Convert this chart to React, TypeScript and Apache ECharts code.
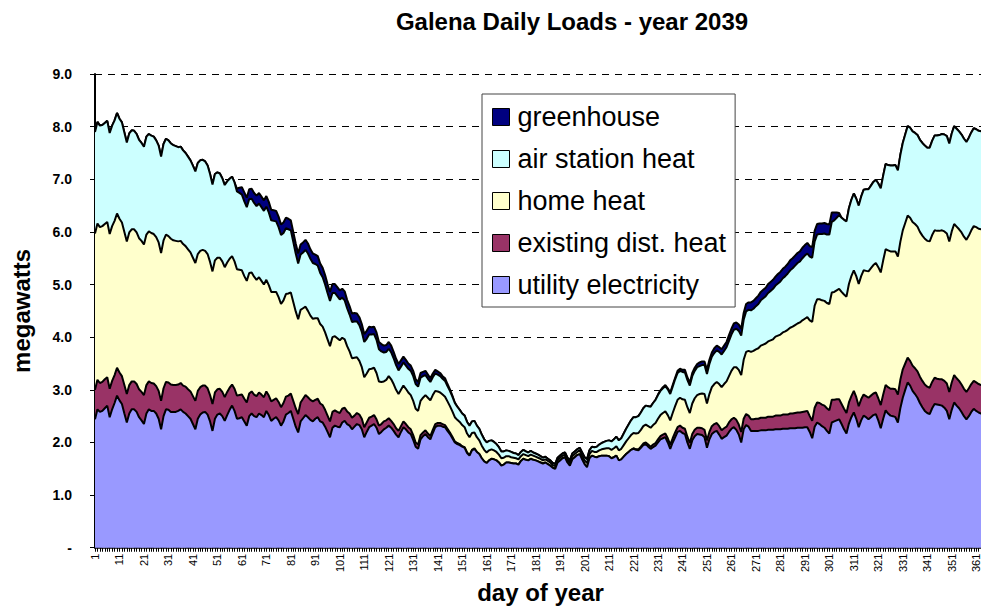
import React, { useEffect, useRef } from "react";
import * as echarts from "echarts";

const FONT = "'Liberation Sans', Arial, Helvetica, sans-serif";

const days: string[] = Array.from({ length: 365 }, (_, i) => String(i + 1));

const seriesNames = [
  "utility electricity",
  "existing dist. heat",
  "home heat",
  "air station heat",
  "greenhouse",
];
const seriesColors = ["#9999FF", "#993366", "#FFFFCC", "#CCFFFF", "#000080"];
const legendOrder = [
  "greenhouse",
  "air station heat",
  "home heat",
  "existing dist. heat",
  "utility electricity",
];

// utility electricity (MW), day 1..365
const elec = [
  2.44,2.63,2.58,2.60,2.65,2.70,2.48,2.63,2.75,2.89,
  2.80,2.73,2.55,2.38,2.55,2.63,2.63,2.58,2.48,2.42,
  2.35,2.55,2.63,2.60,2.60,2.55,2.45,2.25,2.50,2.63,
  2.62,2.58,2.58,2.58,2.60,2.63,2.58,2.55,2.50,2.45,
  2.35,2.25,2.45,2.53,2.57,2.58,2.53,2.40,2.22,2.45,
  2.53,2.55,2.50,2.41,2.52,2.62,2.70,2.60,2.45,2.46,
  2.48,2.40,2.32,2.50,2.55,2.50,2.48,2.55,2.52,2.48,
  2.60,2.52,2.41,2.45,2.48,2.42,2.32,2.40,2.53,2.56,
  2.60,2.45,2.30,2.19,2.40,2.46,2.52,2.48,2.43,2.40,
  2.45,2.48,2.40,2.38,2.30,2.20,2.10,2.28,2.32,2.30,
  2.29,2.38,2.41,2.35,2.32,2.25,2.30,2.35,2.33,2.25,
  2.10,2.20,2.29,2.32,2.35,2.28,2.16,2.20,2.25,2.28,
  2.32,2.28,2.22,2.15,2.10,2.20,2.29,2.25,2.19,2.16,
  2.05,1.92,1.88,2.06,2.12,2.16,2.10,2.06,2.18,2.29,
  2.32,2.32,2.30,2.29,2.22,2.16,2.08,2.00,1.97,1.95,
  1.92,1.90,1.80,1.75,1.85,1.88,1.82,1.78,1.70,1.64,
  1.61,1.66,1.69,1.68,1.66,1.62,1.56,1.58,1.62,1.62,
  1.61,1.60,1.60,1.58,1.65,1.69,1.67,1.66,1.69,1.67,
  1.66,1.64,1.62,1.60,1.62,1.59,1.56,1.52,1.50,1.62,
  1.66,1.70,1.72,1.62,1.56,1.68,1.72,1.76,1.78,1.68,
  1.59,1.53,1.70,1.75,1.73,1.72,1.74,1.75,1.75,1.75,
  1.74,1.70,1.72,1.75,1.66,1.68,1.73,1.78,1.82,1.86,
  1.88,1.86,1.85,1.90,1.95,1.97,1.92,1.88,1.91,1.94,
  2.00,2.06,2.08,2.10,2.00,1.88,2.00,2.10,2.20,2.22,
  2.18,2.16,2.00,1.88,2.04,2.12,2.16,2.15,2.14,2.10,
  1.90,2.06,2.16,2.20,2.22,2.15,2.07,2.10,2.13,2.20,
  2.26,2.29,2.24,2.15,2.00,2.25,2.33,2.30,2.22,2.22,
  2.22,2.22,2.23,2.23,2.23,2.24,2.24,2.24,2.25,2.25,
  2.25,2.26,2.26,2.26,2.27,2.27,2.27,2.28,2.28,2.28,
  2.29,2.29,2.20,2.08,2.30,2.38,2.35,2.31,2.28,2.22,
  2.17,2.38,2.40,2.42,2.44,2.35,2.25,2.17,2.36,2.48,
  2.57,2.45,2.29,2.42,2.51,2.48,2.44,2.48,2.52,2.54,
  2.42,2.27,2.45,2.61,2.55,2.51,2.50,2.48,2.38,2.65,
  2.85,3.00,3.14,3.08,2.98,2.92,2.85,2.75,2.67,2.60,
  2.56,2.54,2.65,2.73,2.72,2.71,2.70,2.66,2.60,2.44,
  2.62,2.76,2.70,2.65,2.58,2.50,2.44,2.50,2.58,2.64,
  2.60,2.57,2.55,2.58,2.60,
];

// existing district heat (MW)
const distHeat = [
  0.56,0.56,0.55,0.55,0.55,0.54,0.54,0.54,0.53,0.53,
  0.53,0.53,0.54,0.54,0.54,0.53,0.53,0.53,0.53,0.54,
  0.55,0.54,0.53,0.53,0.52,0.52,0.53,0.54,0.53,0.52,
  0.52,0.52,0.51,0.51,0.50,0.50,0.50,0.51,0.51,0.52,
  0.53,0.54,0.53,0.52,0.51,0.50,0.50,0.50,0.51,0.50,
  0.48,0.47,0.46,0.45,0.44,0.42,0.40,0.42,0.44,0.44,
  0.43,0.43,0.44,0.43,0.42,0.41,0.40,0.40,0.39,0.38,
  0.37,0.37,0.37,0.36,0.36,0.35,0.35,0.35,0.34,0.33,
  0.33,0.34,0.35,0.35,0.36,0.37,0.38,0.38,0.38,0.38,
  0.36,0.35,0.34,0.33,0.32,0.31,0.30,0.30,0.29,0.28,
  0.27,0.26,0.25,0.24,0.23,0.22,0.21,0.21,0.20,0.20,
  0.19,0.18,0.18,0.17,0.17,0.16,0.16,0.15,0.15,0.14,
  0.14,0.13,0.13,0.12,0.12,0.11,0.11,0.10,0.10,0.09,
  0.09,0.08,0.08,0.08,0.07,0.07,0.07,0.06,0.06,0.06,
  0.05,0.05,0.05,0.04,0.04,0.03,0.03,0.02,0.02,0.02,
  0.01,0.01,0.01,0.01,0.01,0.01,0,0,0,0,
  0,0,0,0,0,0,0,0,0,0,
  0,0,0,0,0,0,0,0,0,0,
  0,0,0,0,0,0,0,0,0,0,
  0,0,0,0,0,0,0,0,0,0,
  0,0,0,0,0,0,0,0,0,0,
  0,0,0,0,0,0,0,0,0,0,
  0.01,0.01,0.02,0.02,0.03,0.03,0.04,0.04,0.05,0.05,
  0.06,0.06,0.07,0.07,0.08,0.08,0.08,0.09,0.09,0.10,
  0.10,0.10,0.11,0.11,0.12,0.12,0.12,0.13,0.13,0.14,
  0.14,0.14,0.15,0.15,0.15,0.16,0.16,0.17,0.17,0.18,
  0.18,0.18,0.19,0.19,0.20,0.20,0.21,0.21,0.22,0.22,
  0.23,0.23,0.24,0.24,0.24,0.25,0.25,0.25,0.26,0.26,
  0.26,0.27,0.27,0.27,0.28,0.28,0.29,0.29,0.29,0.30,
  0.30,0.31,0.30,0.33,0.36,0.38,0.40,0.41,0.42,0.43,
  0.44,0.43,0.41,0.40,0.38,0.38,0.39,0.39,0.40,0.40,
  0.41,0.41,0.40,0.40,0.40,0.40,0.41,0.41,0.41,0.41,
  0.42,0.44,0.46,0.48,0.50,0.51,0.52,0.53,0.53,0.54,
  0.54,0.50,0.47,0.47,0.48,0.49,0.50,0.50,0.50,0.50,
  0.50,0.50,0.50,0.50,0.49,0.49,0.50,0.51,0.52,0.52,
  0.52,0.52,0.52,0.52,0.52,0.52,0.52,0.53,0.53,0.53,
  0.54,0.54,0.54,0.54,0.54,
];

// home heat (MW)
const homeHeat = [
  2.97,2.97,2.96,2.96,2.95,2.95,2.94,2.94,2.93,2.93,
  2.92,2.92,2.91,2.90,2.90,2.89,2.89,2.88,2.87,2.87,
  2.86,2.86,2.85,2.85,2.84,2.83,2.82,2.81,2.81,2.80,
  2.78,2.77,2.75,2.74,2.72,2.70,2.69,2.67,2.66,2.64,
  2.63,2.62,2.60,2.59,2.58,2.56,2.55,2.53,2.52,2.51,
  2.50,2.49,2.48,2.47,2.46,2.45,2.44,2.42,2.40,2.38,
  2.36,2.33,2.31,2.29,2.26,2.24,2.21,2.19,2.16,2.14,
  2.12,2.10,2.08,2.05,2.02,1.99,1.96,1.95,1.95,1.94,
  1.92,1.88,1.84,1.80,1.76,1.72,1.68,1.64,1.60,1.57,
  1.55,1.53,1.51,1.49,1.47,1.45,1.43,1.42,1.41,1.40,
  1.38,1.35,1.30,1.24,1.18,1.13,1.10,1.06,1.02,0.98,
  0.95,0.93,0.92,0.91,0.90,0.88,0.84,0.80,0.76,0.77,
  0.80,0.79,0.76,0.73,0.70,0.69,0.68,0.67,0.66,0.65,
  0.65,0.64,0.64,0.65,0.66,0.67,0.68,0.68,0.66,0.63,
  0.60,0.58,0.56,0.54,0.52,0.50,0.48,0.46,0.44,0.42,
  0.40,0.38,0.36,0.34,0.32,0.30,0.28,0.26,0.24,0.22,
  0.20,0.19,0.18,0.17,0.16,0.15,0.14,0.13,0.12,0.12,
  0.11,0.11,0.10,0.10,0.09,0.09,0.09,0.08,0.08,0.08,
  0.07,0.07,0.07,0.06,0.06,0.06,0.06,0.05,0.05,0.05,
  0.05,0.05,0.05,0.05,0.06,0.06,0.06,0.06,0.07,0.07,
  0.07,0.08,0.08,0.09,0.09,0.10,0.11,0.12,0.13,0.14,
  0.15,0.16,0.17,0.18,0.19,0.20,0.22,0.24,0.26,0.28,
  0.29,0.30,0.31,0.32,0.33,0.34,0.35,0.36,0.37,0.38,
  0.39,0.40,0.41,0.42,0.44,0.46,0.48,0.50,0.52,0.53,
  0.54,0.55,0.56,0.57,0.58,0.60,0.62,0.64,0.66,0.68,
  0.70,0.72,0.74,0.76,0.78,0.80,0.82,0.84,0.86,0.88,
  0.92,0.96,1.00,1.04,1.08,1.12,1.18,1.23,1.28,1.30,
  1.32,1.34,1.37,1.39,1.41,1.43,1.45,1.47,1.50,1.52,
  1.54,1.56,1.58,1.61,1.63,1.65,1.67,1.69,1.71,1.74,
  1.76,1.78,1.82,1.88,1.94,1.96,1.97,1.98,1.99,2.00,
  2.02,2.04,2.05,2.07,2.10,2.13,2.17,2.21,2.25,2.28,
  2.29,2.30,2.32,2.34,2.36,2.38,2.40,2.42,2.44,2.46,
  2.49,2.52,2.55,2.58,2.60,2.61,2.61,2.62,2.62,2.62,
  2.64,2.67,2.70,2.72,2.73,2.74,2.75,2.75,2.76,2.77,
  2.77,2.78,2.79,2.80,2.81,2.82,2.83,2.84,2.85,2.86,
  2.87,2.87,2.88,2.88,2.89,2.89,2.89,2.90,2.92,2.94,
  2.95,2.95,2.96,2.96,2.97,
];

// air station heat (MW)
const airHeat = [
  1.93,1.93,1.93,1.92,1.92,1.92,1.92,1.91,1.91,1.91,
  1.90,1.90,1.89,1.88,1.88,1.88,1.87,1.87,1.87,1.86,
  1.86,1.86,1.85,1.85,1.85,1.84,1.84,1.83,1.83,1.82,
  1.82,1.81,1.81,1.80,1.79,1.79,1.78,1.77,1.76,1.75,
  1.75,1.74,1.73,1.72,1.71,1.70,1.68,1.67,1.65,1.64,
  1.62,1.60,1.58,1.56,1.54,1.52,1.51,1.50,1.48,1.46,
  1.44,1.42,1.40,1.40,1.40,1.40,1.40,1.40,1.40,1.40,
  1.39,1.38,1.36,1.35,1.34,1.33,1.31,1.28,1.25,1.22,
  1.18,1.14,1.10,1.06,1.05,1.06,1.08,1.09,1.08,1.06,
  1.03,1.00,0.97,0.94,0.91,0.88,0.86,0.84,0.82,0.80,
  0.78,0.76,0.74,0.72,0.70,0.69,0.69,0.68,0.68,0.67,
  0.67,0.66,0.66,0.65,0.64,0.63,0.61,0.58,0.55,0.53,
  0.52,0.51,0.49,0.47,0.45,0.44,0.44,0.44,0.45,0.46,
  0.47,0.47,0.46,0.44,0.41,0.38,0.36,0.35,0.34,0.33,
  0.32,0.31,0.30,0.30,0.29,0.29,0.28,0.27,0.25,0.23,
  0.22,0.22,0.22,0.22,0.22,0.22,0.22,0.22,0.21,0.20,
  0.19,0.18,0.17,0.16,0.15,0.14,0.13,0.12,0.11,0.10,
  0.10,0.09,0.09,0.08,0.08,0.08,0.07,0.07,0.07,0.06,
  0.06,0.06,0.05,0.05,0.05,0.04,0.04,0.04,0.04,0.04,
  0.04,0.04,0.04,0.04,0.04,0.05,0.05,0.05,0.05,0.06,
  0.06,0.07,0.07,0.08,0.09,0.10,0.11,0.12,0.13,0.14,
  0.15,0.16,0.17,0.18,0.19,0.20,0.22,0.24,0.26,0.28,
  0.30,0.31,0.32,0.33,0.34,0.36,0.38,0.40,0.42,0.44,
  0.45,0.46,0.47,0.48,0.49,0.50,0.50,0.51,0.51,0.51,
  0.52,0.52,0.52,0.52,0.52,0.52,0.53,0.53,0.54,0.55,
  0.56,0.57,0.58,0.59,0.60,0.61,0.62,0.63,0.65,0.67,
  0.69,0.71,0.73,0.74,0.75,0.76,0.77,0.78,0.79,0.80,
  0.82,0.84,0.86,0.88,0.90,0.92,0.94,0.96,0.97,0.99,
  1.01,1.03,1.05,1.07,1.09,1.11,1.13,1.15,1.16,1.18,
  1.20,1.21,1.21,1.22,1.22,1.23,1.24,1.26,1.28,1.30,
  1.32,1.34,1.36,1.38,1.40,1.41,1.42,1.43,1.44,1.45,
  1.46,1.47,1.49,1.51,1.53,1.55,1.56,1.57,1.58,1.58,
  1.59,1.60,1.61,1.62,1.62,1.63,1.63,1.64,1.64,1.65,
  1.66,1.68,1.70,1.71,1.72,1.73,1.74,1.75,1.76,1.77,
  1.77,1.78,1.79,1.80,1.81,1.82,1.83,1.84,1.85,1.86,
  1.86,1.86,1.86,1.86,1.86,1.86,1.86,1.86,1.86,1.86,
  1.86,1.86,1.86,1.86,1.86,
];

// greenhouse (MW)
const greenhouse = [
  0,0,0,0,0,0,0,0,0,0,
  0,0,0,0,0,0,0,0,0,0,
  0,0,0,0,0,0,0,0,0,0,
  0,0,0,0,0,0,0,0,0,0,
  0,0,0,0,0,0,0,0,0,0,
  0,0,0,0,0,0,0,0,0.05,0.10,
  0.14,0.17,0.18,0.19,0.19,0.19,0.20,0.20,0.20,0.20,
  0.20,0.20,0.20,0.20,0.20,0.20,0.20,0.20,0.20,0.20,
  0.19,0.19,0.19,0.19,0.19,0.19,0.19,0.19,0.18,0.18,
  0.18,0.18,0.18,0.18,0.18,0.17,0.17,0.17,0.17,0.17,
  0.17,0.17,0.17,0.16,0.16,0.16,0.16,0.15,0.15,0.15,
  0.15,0.15,0.15,0.14,0.14,0.14,0.14,0.14,0.13,0.13,
  0.13,0.13,0.12,0.12,0.12,0.12,0.11,0.11,0.10,0.10,
  0.10,0.09,0.09,0.09,0.08,0.08,0.08,0.07,0.07,0.07,
  0.06,0.06,0.05,0.05,0.04,0.03,0.02,0.01,0,0,
  0,0,0,0,0,0,0,0,0,0,
  0,0,0,0,0,0,0,0,0,0,
  0,0,0,0,0,0,0,0,0,0,
  0,0,0,0,0,0,0,0,0,0,
  0,0,0,0,0,0,0,0,0,0,
  0,0,0,0,0,0,0,0,0,0,
  0,0,0,0,0,0,0,0,0,0,
  0,0,0,0,0,0,0,0,0,0,
  0.01,0.01,0.02,0.02,0.02,0.03,0.03,0.03,0.04,0.04,
  0.04,0.05,0.05,0.05,0.06,0.06,0.06,0.07,0.07,0.07,
  0.08,0.08,0.08,0.09,0.09,0.09,0.10,0.10,0.10,0.11,
  0.11,0.12,0.12,0.12,0.13,0.13,0.14,0.14,0.15,0.15,
  0.15,0.16,0.16,0.16,0.16,0.17,0.17,0.17,0.17,0.18,
  0.18,0.18,0.18,0.18,0.19,0.19,0.19,0.19,0.19,0.20,
  0.20,0.20,0.20,0.20,0.20,0.20,0.20,0.20,0.20,0.20,
  0.19,0.18,0.15,0.10,0.04,0,0,0,0,0,
  0,0,0,0,0,0,0,0,0,0,
  0,0,0,0,0,0,0,0,0,0,
  0,0,0,0,0,0,0,0,0,0,
  0,0,0,0,0,0,0,0,0,0,
  0,0,0,0,0,0,0,0,0,0,
  0,0,0,0,0,
];

const seriesData = [elec, distHeat, homeHeat, airHeat, greenhouse];

export default function App() {
  const ref = useRef<HTMLDivElement>(null);

  useEffect(() => {
    if (!ref.current) return;
    const chart = echarts.init(ref.current, undefined, { renderer: "svg" });

    const series = seriesNames.map((name, i) => ({
      name,
      type: "line",
      stack: "total",
      data: seriesData[i],
      symbol: "none",
      showSymbol: false,
      z: 10 - i,
      itemStyle: { color: seriesColors[i] },
      lineStyle: { color: "#000", width: 2 },
      areaStyle: { color: seriesColors[i], opacity: 1 },
      emphasis: { disabled: true },
    }));

    chart.setOption({
      animation: false,
      backgroundColor: "#ffffff",
      title: {
        text: "Galena Daily Loads - year 2039",
        left: 567,
        top: 4,
        textAlign: "center",
        textStyle: {
          fontFamily: FONT,
          fontWeight: "bold",
          fontSize: 24,
          color: "#000",
        },
      },
      grid: { left: 95, right: 14, top: 74, bottom: 60 },
      legend: {
        orient: "vertical",
        left: 482,
        top: 94,
        padding: [8, 9, 7, 10],
        itemGap: 12,
        itemWidth: 17,
        itemHeight: 17,
        icon: "rect",
        backgroundColor: "#ffffff",
        borderColor: "#444",
        borderWidth: 1,
        borderRadius: 0,
        selectedMode: false,
        textStyle: {
          fontFamily: FONT,
          fontSize: 27,
          lineHeight: 30,
          color: "#000",
          padding: [0, 0, 0, 3],
        },
        data: legendOrder.map((n) => ({
          name: n,
          itemStyle: {
            color: seriesColors[seriesNames.indexOf(n)],
            borderColor: "#000",
            borderWidth: 1,
          },
        })),
      },
      xAxis: {
        type: "category",
        data: days,
        boundaryGap: false,
        name: "day of year",
        nameLocation: "middle",
        nameGap: 32,
        nameTextStyle: {
          fontFamily: FONT,
          fontWeight: "bold",
          fontSize: 24,
          color: "#000",
        },
        axisLine: { lineStyle: { color: "#000", width: 1.5 } },
        axisTick: {
          show: true,
          interval: 0,
          length: 4,
          lineStyle: { color: "#000", width: 1 },
        },
        axisLabel: {
          interval: 9,
          rotate: 90,
          fontFamily: FONT,
          fontSize: 11,
          color: "#000",
          margin: 6,
        },
        splitLine: { show: false },
      },
      yAxis: {
        type: "value",
        min: 0,
        max: 9,
        interval: 1,
        name: "megawatts",
        nameLocation: "middle",
        nameRotate: 90,
        nameGap: 62,
        nameTextStyle: {
          fontFamily: FONT,
          fontWeight: "bold",
          fontSize: 24,
          color: "#000",
        },
        axisLine: { show: true, lineStyle: { color: "#000", width: 2 } },
        axisTick: { show: true, length: 5, lineStyle: { color: "#000" } },
        axisLabel: {
          fontFamily: FONT,
          fontWeight: "bold",
          fontSize: 14,
          color: "#000",
          margin: 23,
          formatter: (v: number) => (v === 0 ? "-" : v.toFixed(1)),
        },
        splitLine: {
          show: true,
          lineStyle: { color: "#000", width: 1, type: [7, 6] },
        },
      },
      series,
    });

    return () => {
      chart.dispose();
    };
  }, []);

  return (
    <div
      style={{
        position: "fixed",
        left: 0,
        top: 0,
        width: 981,
        height: 609,
        overflow: "hidden",
        background: "#fff",
      }}
    >
      <div ref={ref} style={{ width: 1000, height: 609 }} />
    </div>
  );
}
